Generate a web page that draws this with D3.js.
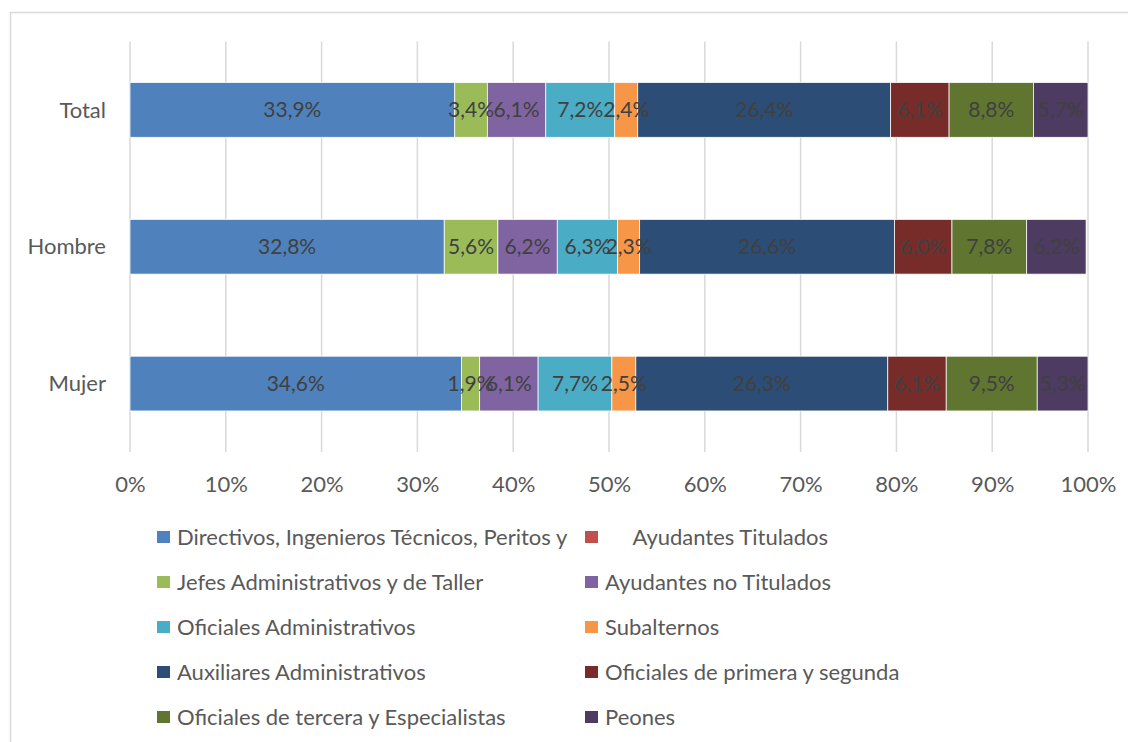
<!DOCTYPE html>
<html><head><meta charset="utf-8">
<script src="https://cdn.jsdelivr.net/npm/d3@7"></script>
<style>
html,body{margin:0;padding:0;background:#fff;}
svg{display:block;}
text{font-family:Lato,"Open Sans",sans-serif;}
</style></head>
<body>
<svg id="chart" width="1128" height="742"></svg>
<script>
const categories = ["Total", "Hombre", "Mujer"];
const seriesNames = [
  "Directivos, Ingenieros Técnicos, Peritos y",
  "     Ayudantes Titulados",
  "Jefes Administrativos y de Taller",
  "Ayudantes no Titulados",
  "Oficiales Administrativos",
  "Subalternos",
  "Auxiliares Administrativos",
  "Oficiales de primera y segunda",
  "Oficiales de tercera y Especialistas",
  "Peones"
];
const seriesColors = ["#4F81BD","#C0504D","#9BBB59","#8064A2","#4BACC6","#F79646","#2C4D75","#772C2A","#5F7530","#4D3B62"];
const valuesTotal  = [33.9, 0, 3.4, 6.1, 7.2, 2.4, 26.4, 6.1, 8.8, 5.7];
const valuesHombre = [32.8, 0, 5.6, 6.2, 6.3, 2.3, 26.6, 6.0, 7.8, 6.2];
const valuesMujer  = [34.6, 0, 1.9, 6.1, 7.7, 2.5, 26.3, 6.1, 9.5, 5.3];
const tickValues = [0,10,20,30,40,50,60,70,80,90,100];

const valuesByCat = {Total: valuesTotal, Hombre: valuesHombre, Mujer: valuesMujer};

const svg = d3.select("#chart");
// outer frame
svg.append("rect").attr("x",10.5).attr("y",12.5).attr("width",1140).attr("height",760)
  .attr("fill","none").attr("stroke","#d9d9d9").attr("stroke-width",1.5);

const plot = {left:130, right:1088, top:41.5, bottom:452};
const x = d3.scaleLinear().domain([0,100]).range([plot.left, plot.right]);
const y = d3.scaleBand().domain(categories).range([plot.top, plot.bottom]).paddingInner(0.6).paddingOuter(0.3);

// gridlines
svg.append("g").selectAll("line").data(tickValues).join("line")
  .attr("x1",d=>x(d)).attr("x2",d=>x(d)).attr("y1",plot.top).attr("y2",plot.bottom)
  .attr("stroke","#d9d9d9").attr("stroke-width",1.5);

// x axis labels
const xAxis = d3.axisBottom(x).tickValues(tickValues).tickFormat(d=>d+"%").tickSize(0).tickPadding(0);
const gx = svg.append("g").attr("transform",`translate(0,${plot.bottom})`).call(xAxis);
gx.select(".domain").remove();
gx.selectAll("text").attr("font-size",22).attr("fill","#595959").attr("dy",null).attr("y",40)
  .style("font-family","Lato, 'Open Sans', sans-serif");

// y axis labels
const yAxis = d3.axisLeft(y).tickSize(0).tickPadding(0);
const gy = svg.append("g").attr("transform",`translate(${106},0)`).call(yAxis);
gy.select(".domain").remove();
gy.selectAll("text").attr("font-size",22).attr("fill","#595959").attr("dy","0.35em")
  .style("font-family","Lato, 'Open Sans', sans-serif");

// stacked data
const rows = categories.map(c => {
  const o = {cat:c};
  seriesNames.forEach((s,i)=>o[i]=valuesByCat[c][i]);
  return o;
});
const stack = d3.stack().keys(seriesNames.map((s,i)=>i));
const layers = stack(rows);

const gBars = svg.append("g");
layers.forEach((layer, i) => {
  const g = gBars.append("g").attr("fill", seriesColors[i]);
  g.selectAll("rect").data(layer.filter(d=>d[1]-d[0]>0)).join("rect")
    .attr("x", d=>x(d[0])).attr("width", d=>x(d[1])-x(d[0]))
    .attr("y", d=>y(d.data.cat)).attr("height", y.bandwidth())
    .attr("stroke","#ffffff").attr("stroke-width",0.75);
});
layers.forEach((layer, i) => {
  svg.append("g").selectAll("text").data(layer.filter(d=>d[1]-d[0]>0)).join("text")
    .attr("x", d=>(x(d[0])+x(d[1]))/2)
    .attr("y", d=>y(d.data.cat)+y.bandwidth()/2)
    .attr("dy","0.35em").attr("text-anchor","middle")
    .attr("font-size",21).attr("fill","#404040")
    .text(d=>d3.format(".1f")(d[1]-d[0]).replace(".",",")+"%");
});

// legend
const legX = [157, 585], legY0 = 537, legStep = 45;
const leg = svg.append("g");
seriesNames.forEach((s,i)=>{
  const col = i%2, row = Math.floor(i/2);
  const gx0 = legX[col], gy0 = legY0 + row*legStep;
  leg.append("rect").attr("x",gx0).attr("y",gy0-6).attr("width",13).attr("height",12).attr("fill",seriesColors[i]);
  leg.append("text").attr("x",gx0+20).attr("y",gy0).attr("dy","0.35em")
    .attr("font-size",22).attr("fill","#595959").style("white-space","pre")
    .attr("xml:space","preserve").text(s);
});
</script>
</body></html>
